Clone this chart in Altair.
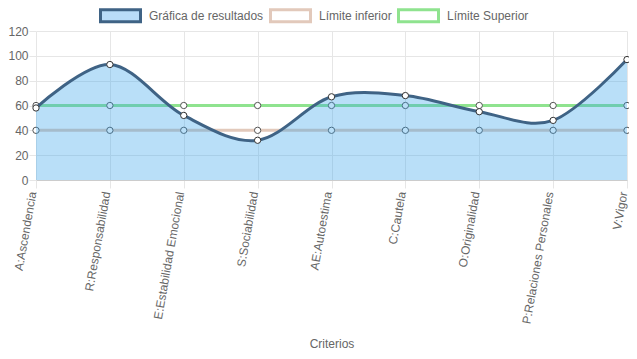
import altair as alt
import pandas as pd

categories = ["A:Ascendencia", "R:Responsabilidad", "E:Estabilidad Emocional",
              "S:Sociabilidad", "AE:Autoestima", "C:Cautela", "O:Originalidad",
              "P:Relaciones Personales", "V:Vigor"]
resultados = [58, 93, 52, 32, 67, 68, 55, 48, 97]
limite_inferior = [40, 40, 40, 40, 40, 40, 40, 40, 40]
limite_superior = [60, 60, 60, 60, 60, 60, 60, 60, 60]
series_names = ["Gráfica de resultados", "Límite inferior", "Límite Superior"]
y_ticks = [0, 20, 40, 60, 80, 100, 120]

rows = []
for name, vals in zip(series_names, [resultados, limite_inferior, limite_superior]):
    for c, v in zip(categories, vals):
        rows.append({"criterio": c, "valor": v, "serie": name})
df = pd.DataFrame(rows)

FONT = "Liberation Sans"
stroke_colors = ["#3f6385", "#e2c9bb", "#8fe38f"]
fill_colors = ["#b9dcf8", "#ffffff", "#ffffff"]
GRID = "#e6e6e6"

x_enc = alt.X("criterio:N", sort=categories, title="Criterios",
              scale=alt.Scale(type="point", padding=0),
              axis=alt.Axis(labelAngle=-80, labelAlign="right", labelBaseline="alphabetic",
                            labelPadding=4, tickSize=8, tickColor=GRID,
                            gridColor=GRID, domain=True, domainColor="#cccccc",
                            grid=True, labelOverlap=False,
                            labelFont=FONT, labelFontSize=12, labelColor="#666666",
                            titleFont=FONT, titleFontSize=12, titleColor="#666666",
                            titleFontWeight="normal", titleY=163, titleBaseline="middle"))
y_enc = alt.Y("valor:Q", title=None,
              scale=alt.Scale(domain=[0, 120], nice=False, zero=True),
              axis=alt.Axis(values=y_ticks, tickSize=7, tickColor=GRID,
                            gridColor=GRID, domain=False, labelOverlap=False,
                            labelFont=FONT, labelFontSize=12, labelColor="#666666",
                            labelPadding=1))

leg = alt.Legend(title=None, orient="none", legendX=63, legendY=-37,
                 direction="horizontal",
                 symbolType="M-1,-0.3H1V0.3H-1Z", symbolSize=1600, symbolStrokeWidth=3,
                 symbolOpacity=1, labelFont=FONT, labelFontSize=12, labelColor="#666666",
                 labelOffset=7, columnPadding=0)

base = alt.Chart(df)
stroke_scale = alt.Scale(domain=series_names, range=stroke_colors)
fill_scale = alt.Scale(domain=series_names, range=fill_colors)

limits = base.transform_filter(alt.datum.serie != series_names[0])
res = base.transform_filter(alt.datum.serie == series_names[0])

limit_lines = limits.mark_line(strokeWidth=3).encode(
    x=x_enc, y=y_enc, detail="serie:N",
    stroke=alt.Stroke("serie:N", scale=stroke_scale, legend=leg))
limit_points = limits.mark_point(filled=True, fill="white", stroke="#555555",
                                 strokeWidth=1, size=40, opacity=1).encode(
    x=x_enc, y=y_enc)
area = res.mark_area(interpolate="cardinal", tension=0, color="#36a2eb",
                     opacity=0.35).encode(x=x_enc, y=y_enc)
res_line = res.mark_line(interpolate="cardinal", tension=0, strokeWidth=3).encode(
    x=x_enc, y=y_enc,
    stroke=alt.Stroke("serie:N", scale=stroke_scale, legend=leg))
res_points = res.mark_point(filled=True, fill="white", stroke="#333333",
                            strokeWidth=1, size=40, opacity=1).encode(
    x=x_enc, y=y_enc)

legend_layer = base.transform_filter("false").mark_point(filled=True).encode(
    x=x_enc, y=y_enc,
    stroke=alt.Stroke("serie:N", scale=stroke_scale, legend=leg),
    fill=alt.Fill("serie:N", scale=fill_scale, legend=leg))

chart = alt.layer(limit_lines, limit_points, area, res_line, res_points,
                  legend_layer).properties(
    width=591, height=149,
    autosize=alt.AutoSizeParams(type="none"),
    padding={"left": 28, "top": 23, "right": 2, "bottom": 169},
).configure_view(stroke=None).configure_axis(gridWidth=1)

chart.save("out.html", embed_options={"renderer": "svg", "actions": False})
